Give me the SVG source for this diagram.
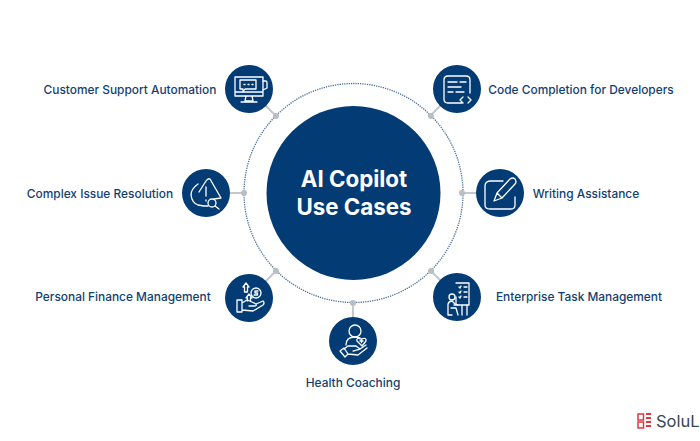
<svg xmlns="http://www.w3.org/2000/svg" width="700" height="441" viewBox="0 0 700 441">
<style>
.lbl{font-family:Inter,"Liberation Sans",sans-serif;font-size:11.900px;font-weight:500;fill:#123f73;text-anchor:middle}
.node{fill:#033b74}
.ic{fill:none;stroke:#fff;stroke-width:1.300;stroke-linejoin:round;stroke-linecap:round}
.link{stroke:#c4c8cd;stroke-width:2;fill:none}
.dot{fill:#b9bec4}
.ttl{font-family:Inter,"Liberation Sans",sans-serif;font-size:22.300px;font-weight:700;fill:#fff;text-anchor:middle}
</style>
<rect width="700" height="441" fill="#fff"/>
<g id="connectors">
<circle cx="353.500" cy="193" r="109.500" fill="none" stroke="#4f7297" stroke-width="1.300" stroke-dasharray="1.300 1"/>
<path class="link" d="M265 105L276 116M244 193H230M265 282L276 271M353 303V317M441 105L430 116M462 193H476M442 282L431 271"/>
<circle class="dot" cx="276" cy="116" r="3"/><circle class="dot" cx="244" cy="193" r="3"/><circle class="dot" cx="276" cy="271" r="3"/><circle class="dot" cx="353" cy="303" r="3"/><circle class="dot" cx="431" cy="116" r="3"/><circle class="dot" cx="462" cy="193" r="3"/><circle class="dot" cx="431" cy="271" r="3"/>
</g>
<g id="center"><circle class="node" cx="353.500" cy="193" r="87"/>
<text class="ttl" x="354" y="187">AI Copilot</text>
<text class="ttl" x="354" y="215">Use Cases</text></g>
<g id="customer-support"><circle class="node" cx="249" cy="89" r="24"/>
<path class="ic" d="M235 77H263V96H235ZM235 92H263M246 96L245 101H253L252 96M241 102H257"/>
<path class="ic" d="M240 80H256V89H245L243 92V89H240ZM263 81H266Q267 81 267 83V88L263 90M244 84.500H245M248 84.500H249M252 84.500H253"/></g>
<text class="lbl" x="130" y="93.500">Customer Support Automation</text>
<g id="complex-issue"><circle class="node" cx="206" cy="193" r="24"/>
<path class="ic" d="M198 184Q191 189 191 195Q192 203 198 205L204 206L208 206M210 179L221 198L214 199M210 179Q208 178 206 181L199 192"/>
<path class="ic" stroke-width="1.700" d="M206 187V196M206 200V201"/><circle class="ic" cx="212" cy="203" r="4"/><path class="ic" d="M215 206L219 209"/></g>
<text class="lbl" x="100" y="197.500">Complex Issue Resolution</text>
<g id="personal-finance"><circle class="node" cx="249" cy="298" r="24"/>
<path class="ic" d="M237 300H242V312H237ZM242 303L247 300L252 302L256 304Q257 306 254 306H249M256 304L263 301Q265 303 263 305L253 311L242 310"/>
<path class="ic" d="M243 287L246 283L249 287H247.500V292H244.500V287ZM246 298L249 294L252 298H250.500V301M247.500 298V301"/>
<circle class="ic" cx="256" cy="293" r="5"/><path class="ic" stroke-width="1" d="M258 291H255V293H257.500V295H254"/></g>
<text class="lbl" x="123" y="301">Personal Finance Management</text>
<g id="health-coaching"><circle class="node" cx="353" cy="341" r="24"/>
<circle class="ic" cx="355" cy="331" r="6"/><path class="ic" d="M346 345Q346 337 355 337L360 338M344 349L348 346H356L360 349L353 351M360 349L366 345M340 351L345 357L348 354L344 348ZM348 354L358 355L367 348"/><path class="ic" d="M362 346L357 341Q356 337 361 339Q367 337 366 341Z"/><path class="ic" stroke-width="1" d="M360 341H363M361.500 339.500V342.500"/></g>
<text class="lbl" x="353" y="387">Health Coaching</text>
<g id="code-completion"><circle class="node" cx="457" cy="89" r="24"/>
<path class="ic" stroke-width="1.800" d="M462 103H448Q444 103 444 99V80Q444 76 448 76H466Q470 76 470 80V93"/>
<path class="ic" stroke-width="1.600" d="M448 82H457M460 82H466M448 87H461M448 92H453M456 92H464M463 97L460 100L463 103M468 97L471 100L468 103"/></g>
<text class="lbl" x="581" y="93.500">Code Completion for Developers</text>
<g id="writing-assistance"><circle class="node" cx="500" cy="193" r="24"/>
<path class="ic" stroke-width="1.600" d="M503 181H491Q485 181 485 186V205Q485 209 490 209H511Q515 209 515 205V197"/>
<path class="ic" stroke-width="1.600" d="M494 201L497 193L510 179Q513 177 515 179Q517 182 515 184L502 198ZM497 193L502 198"/></g>
<text class="lbl" x="586" y="197.500">Writing Assistance</text>
<g id="enterprise-task"><circle class="node" cx="457" cy="297" r="24"/>
<path class="ic" d="M456 283H469V305H456V297M459 287L460 288L461 286M464 287H467M459 292L460 293L461 291M464 292H467M459 297L460 298L461 296M464 297H467M454 305H469M467 305V315M462 305V315"/><circle class="ic" cx="452" cy="297" r="3"/><path class="ic" d="M448 315V304Q449 301 452 301L455 304L458 305M451 308H456L458 315M448 315H452"/></g>
<text class="lbl" x="579" y="301">Enterprise Task Management</text>
<g id="logo">
<rect x="638" y="414" width="5.500" height="6" fill="none" stroke="#e0383e" stroke-width="1.500"/><rect x="638" y="422" width="5.500" height="6" fill="none" stroke="#e0383e" stroke-width="1.500"/><path d="M646 414H651M646 418H651M646 422H651M646 426H651" stroke="#e0383e" stroke-width="2"/>
<text x="656" y="427" font-family="Inter,'Liberation Sans',sans-serif" font-size="16.500" fill="#3a4654">SoluL</text></g>
</svg>
